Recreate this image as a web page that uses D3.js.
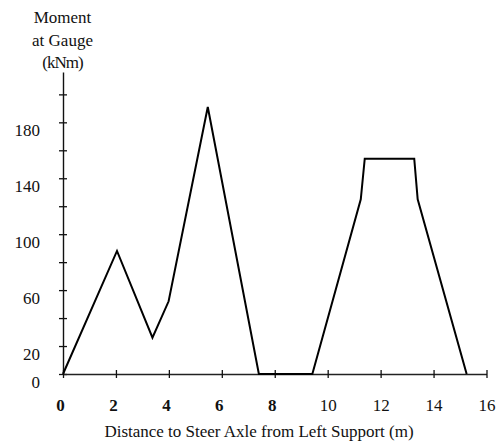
<!DOCTYPE html>
<html>
<head>
<meta charset="utf-8">
<script src="https://cdn.jsdelivr.net/npm/d3@7"></script>
<style>
  body { margin: 0; background: #fff; }
  svg { display: block; }
</style>
</head>
<body>
<div id="chart"><svg></svg></div>
<script>
// values
const distance = [0, 2.04, 3.38, 3.99, 5.47, 7.4, 9.42, 11.25, 11.4, 13.27, 13.4, 15.25];
const moment = [0, 88, 26, 52, 191, 0, 0, 125, 154, 154, 125, 0];
const xTicks = [0, 2, 4, 6, 8, 10, 12, 14, 16];
const yTicks = [0, 20, 40, 60, 80, 100, 120, 140, 160, 180, 200];
const yLabels = [0, 20, 60, 100, 140, 180];
const titleLines = ["Moment", "at Gauge", "(kNm)"];
const xTitle = "Distance to Steer Axle from Left Support (m)";

document.addEventListener("DOMContentLoaded", function () {
  const width = 496,
    height = 441,
    font = '"Liberation Serif", "Times New Roman", serif';

  const svg = d3
    .select("#chart svg")
    .attr("width", width)
    .attr("height", height);

  const x = d3.scaleLinear().domain([0, 16]).range([63, 486.5]);
  const y = d3.scaleLinear().domain([0, 216]).range([374, 72]);

  // y axis, ticks cross the line
  const yAxis = svg
    .append("g")
    .attr("transform", `translate(${x(0)},0)`)
    .call(
      d3
        .axisLeft(y)
        .tickValues(yTicks)
        .tickSize(4)
        .tickSizeOuter(0)
        .tickFormat((d) => (yLabels.includes(d) ? d : ""))
    );
  yAxis.attr("font-family", null);
  yAxis.select(".domain").attr("stroke", "#111").attr("stroke-width", 1.4);
  yAxis.selectAll(".tick line").attr("x1", 4).attr("stroke", "#111").attr("stroke-width", 1.3);
  yAxis
    .selectAll(".tick text")
    .attr("x", -23)
    .attr("dy", null)
    .attr("y", 13.5)
    .attr("fill", "#111")
    .style("font-size", "17px")
    .style("font-family", font);

  // x axis
  const xAxis = svg
    .append("g")
    .attr("transform", `translate(0,${y(0)})`)
    .call(d3.axisBottom(x).tickValues(xTicks).tickSize(4).tickSizeOuter(0));
  xAxis.attr("font-family", null);
  xAxis.select(".domain").attr("stroke", "#222").attr("stroke-width", 1.4);
  xAxis.selectAll(".tick line").attr("y1", -4).attr("stroke", "#111").attr("stroke-width", 1.3);
  xAxis
    .selectAll(".tick text")
    .attr("dy", null)
    .attr("y", 37)
    .attr("x", (d) => (d < 10 ? -3 : 0))
    .attr("fill", "#111")
    .style("font-size", "17px")
    .style("font-family", font)
    .style("font-weight", (d) => (d < 10 ? "bold" : "normal"));

  // moment line
  const line = d3
    .line()
    .x((d, i) => x(distance[i]))
    .y((d) => y(d));

  svg
    .append("path")
    .datum(moment)
    .attr("d", line)
    .attr("fill", "none")
    .attr("stroke", "#000")
    .attr("stroke-width", 2)
    .attr("stroke-linejoin", "miter");

  // y title, three lines above the axis
  svg
    .selectAll(".ytitle")
    .data(titleLines)
    .enter()
    .append("text")
    .attr("class", "ytitle")
    .attr("x", 62.5)
    .attr("y", (d, i) => 23 + i * 22.5)
    .attr("text-anchor", "middle")
    .attr("fill", "#111")
    .style("font-size", "17px")
    .style("font-family", font)
    .style("letter-spacing", (d, i) => (i === 2 ? "-1px" : null))
    .text((d) => d);

  svg
    .append("text")
    .attr("x", 259)
    .attr("y", 437)
    .attr("text-anchor", "middle")
    .attr("fill", "#111")
    .style("font-size", "17px")
    .style("font-family", font)
    .text(xTitle);
});
</script>
</body>
</html>
